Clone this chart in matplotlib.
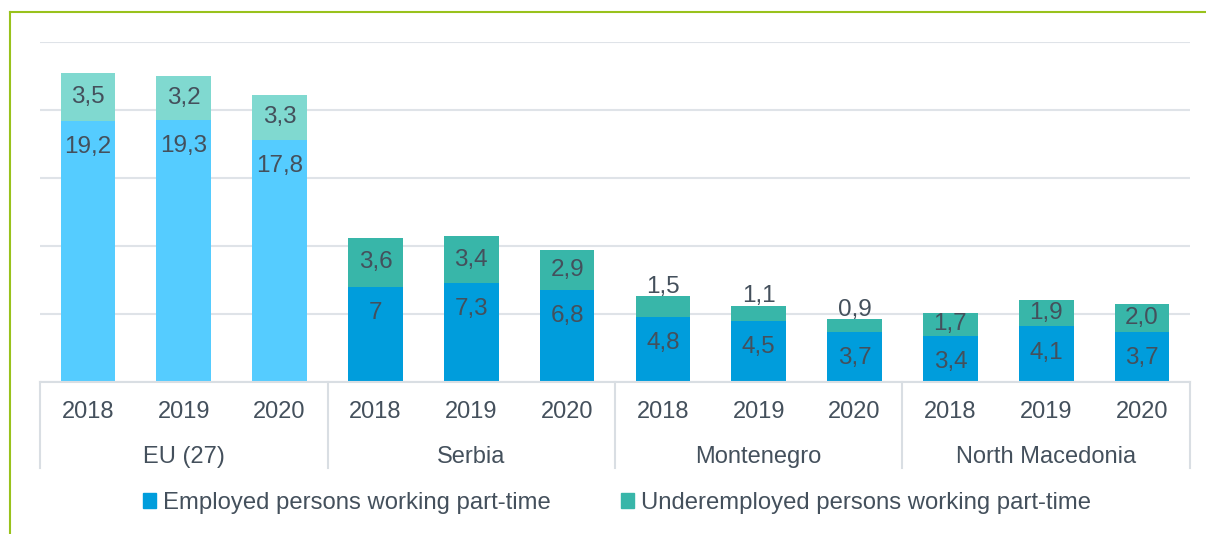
import matplotlib.pyplot as plt
from matplotlib.patches import Patch
from matplotlib.lines import Line2D
import matplotlib.transforms as mtransforms

plt.rcParams['font.family'] = ['Liberation Sans', 'DejaVu Sans']

# data
groups = ['EU (27)', 'Serbia', 'Montenegro', 'North Macedonia']
years = ['2018', '2019', '2020']
employed = [19.2, 19.3, 17.8, 7.0, 7.3, 6.8, 4.8, 4.5, 3.7, 3.4, 4.1, 3.7]
underemployed = [3.5, 3.2, 3.3, 3.6, 3.4, 2.9, 1.5, 1.1, 0.9, 1.7, 1.9, 2.0]
employed_lbl = ['19,2', '19,3', '17,8', '7', '7,3', '6,8', '4,8', '4,5', '3,7', '3,4', '4,1', '3,7']
under_lbl = ['3,5', '3,2', '3,3', '3,6', '3,4', '2,9', '1,5', '1,1', '0,9', '1,7', '1,9', '2,0']

txt = '#44505C'
c_emp = ['#55CCFF'] * 3 + ['#009DDC'] * 9
c_und = ['#80D9D0'] * 3 + ['#38B6A9'] * 9

W, H = 1206, 534
fig = plt.figure(figsize=(W / 100, H / 100), dpi=100)
ax = fig.add_axes([40 / W, (H - 382) / H, (1190 - 40) / W, (382 - 42) / H])

x = list(range(len(employed)))
ax.bar(x, employed, width=0.57, color=c_emp, zorder=2)
ax.bar(x, underemployed, bottom=employed, width=0.57, color=c_und, zorder=2)

ax.set_xlim(-0.5, 11.5)
ax.set_ylim(0, 25)
ax.set_yticks([0, 5, 10, 15, 20, 25])
ax.yaxis.grid(True, color='#DFE3E8', linewidth=1.5, zorder=0)
ax.set_yticklabels([])
ax.tick_params(axis='y', length=0)
for s in ['top', 'right', 'left']:
    ax.spines[s].set_visible(False)
ax.spines['bottom'].set_color('#D9DEE3')
ax.spines['bottom'].set_linewidth(1.5)

ax.set_xticks(x)
ax.set_xticklabels(years * 4, fontsize=17, color=txt)
ax.tick_params(axis='x', length=0, pad=14)

# data labels
for i in x:
    ax.annotate(employed_lbl[i], (i, employed[i]), xytext=(0, -19),
                textcoords='offset points', ha='center', va='center',
                fontsize=17.5, color=txt, zorder=3)
    if 6 <= i <= 8:
        ax.annotate(under_lbl[i], (i, employed[i] + underemployed[i]),
                    xytext=(0, 7), textcoords='offset points',
                    ha='center', va='center', fontsize=17.5, color=txt, zorder=3)
    else:
        ax.text(i, employed[i] + underemployed[i] / 2, under_lbl[i], ha='center',
                va='center', fontsize=17.5, color=txt, zorder=3)

# group separators and labels
trans = mtransforms.blended_transform_factory(ax.transData, ax.transAxes)
for b in [-0.5, 2.5, 5.5, 8.5, 11.5]:
    ax.add_line(Line2D([b, b], [0, -0.253], transform=trans, color='#D9DEE3',
                       linewidth=1.5, clip_on=False))
for g, name in enumerate(groups):
    ax.text(g * 3 + 1, -0.22, name, transform=trans, ha='center', va='center',
            fontsize=17, color=txt)

# legend
handles = [Patch(color='#009DDC', label='Employed persons working part-time'),
           Patch(color='#38B6A9', label='Underemployed persons working part-time')]
fig.legend(handles=handles, loc='center', bbox_to_anchor=(617 / W, (H - 503) / H),
           ncol=2, frameon=False, fontsize=17.2, labelcolor=txt,
           handlelength=0.55, handleheight=0.55, handletextpad=0.3, columnspacing=2.9)

# outer green frame
fig.add_artist(Line2D([10 / W, 1], [(H - 12) / H] * 2, transform=fig.transFigure,
                      color='#99C21C', linewidth=1.5))
fig.add_artist(Line2D([10 / W] * 2, [0, (H - 12) / H], transform=fig.transFigure,
                      color='#99C21C', linewidth=1.5))

fig.savefig('out.png', dpi=100)
